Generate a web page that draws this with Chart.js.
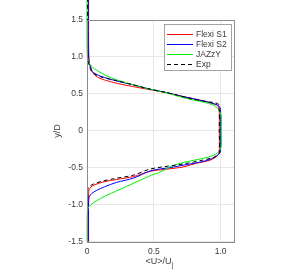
<!DOCTYPE html>
<html>
<head>
<meta charset="utf-8">
<script src="https://cdn.jsdelivr.net/npm/chart.js@4"></script>
<style>
  html, body { margin: 0; padding: 0; background: #fff; }
  canvas { display: block; }
</style>
</head>
<body>
<canvas id="chart" width="297" height="274"></canvas>
<script>
// profiles: y/D (position) and <U>/Uj (velocity)
const yS1 = [1.8, 1.2, 1.0, 0.92, 0.89, 0.85, 0.8, 0.75, 0.7, 0.64, 0.6, 0.56, 0.52, 0.48, 0.44, 0.4, 0.37, 0.35, 0.32, 0.25, 0, -0.25, -0.32, -0.36, -0.4, -0.44, -0.49, -0.52, -0.55, -0.62, -0.66, -0.69, -0.73, -0.76, -0.8, -0.85, -1.5];
const uS1 = [0.012, 0.012, 0.014, 0.018, 0.022, 0.03, 0.04, 0.06, 0.11, 0.23, 0.34, 0.46, 0.58, 0.68, 0.78, 0.88, 0.94, 0.97, 0.985, 0.99, 0.99, 0.99, 0.985, 0.96, 0.92, 0.82, 0.72, 0.6, 0.47, 0.35, 0.22, 0.13, 0.06, 0.03, 0.015, 0.012, 0.012];

const yS2 = [1.8, 1.2, 1.0, 0.92, 0.88, 0.84, 0.8, 0.78, 0.74, 0.67, 0.62, 0.56, 0.52, 0.47, 0.44, 0.4, 0.37, 0.35, 0.32, 0.25, 0, -0.25, -0.3, -0.34, -0.38, -0.42, -0.46, -0.5, -0.54, -0.64, -0.7, -0.76, -0.81, -0.85, -0.89, -0.95, -1.5];
const uS2 = [0.01, 0.01, 0.012, 0.016, 0.022, 0.03, 0.04, 0.055, 0.1, 0.23, 0.35, 0.48, 0.59, 0.7, 0.78, 0.88, 0.94, 0.975, 0.995, 1.0, 1.0, 1.0, 0.995, 0.97, 0.93, 0.86, 0.74, 0.62, 0.48, 0.35, 0.22, 0.13, 0.07, 0.035, 0.018, 0.012, 0.01];

const yJaz = [1.8, 1.2, 1.02, 0.96, 0.92, 0.88, 0.84, 0.8, 0.75, 0.685, 0.62, 0.56, 0.52, 0.47, 0.43, 0.4, 0.37, 0.34, 0.3, 0.25, 0.2, 0, -0.2, -0.26, -0.3, -0.33, -0.36, -0.4, -0.44, -0.49, -0.55, -0.62, -0.71, -0.8, -0.89, -0.95, -1.0, -1.05, -1.12, -1.5];
const uJaz = [0, 0, 0.002, 0.006, 0.015, 0.03, 0.055, 0.09, 0.14, 0.23, 0.35, 0.48, 0.58, 0.68, 0.76, 0.84, 0.91, 0.955, 0.98, 0.995, 1.005, 1.005, 1.005, 0.995, 0.975, 0.95, 0.9, 0.8, 0.7, 0.62, 0.56, 0.46, 0.35, 0.24, 0.13, 0.07, 0.03, 0.008, 0.002, 0];

const yExp = [1.8, 1.2, 0.98, 0.9, 0.85, 0.8, 0.77, 0.73, 0.675, 0.62, 0.56, 0.52, 0.47, 0.44, 0.4, 0.38, 0.36, 0.3, 0, -0.3, -0.33, -0.36, -0.4, -0.45, -0.52, -0.6, -0.65, -0.68, -0.72, -0.76, -0.8, -1.5];
const uExp = [0.004, 0.004, 0.006, 0.012, 0.022, 0.035, 0.055, 0.1, 0.23, 0.35, 0.48, 0.59, 0.7, 0.76, 0.88, 0.95, 0.985, 0.99, 0.99, 0.99, 0.97, 0.95, 0.86, 0.72, 0.47, 0.35, 0.2, 0.12, 0.05, 0.015, 0.006, 0.004];

const seriesNames = ["Flexi S1", "Flexi S2", "JAZzY", "Exp"];
const xTicks = [0, 0.5, 1];
const yTicks = [-1.5, -1, -0.5, 0, 0.5, 1, 1.5];

const toPoints = (u, y) => u.map((v, i) => ({ x: v, y: y[i] }));

const FONT = "'Liberation Sans', Arial, sans-serif";
const AXIS_GRAY = "#8c8c8c";
const TEXT = "#3a3a3a";

const boxAndLegend = {
  id: "boxAndLegend",
  afterDraw(chart) {
    const ctx = chart.ctx;
    const a = chart.chartArea;
    ctx.save();
    // axes box
    ctx.strokeStyle = AXIS_GRAY;
    ctx.lineWidth = 1;
    ctx.strokeRect(Math.round(a.left) + 0.5, Math.round(a.top) + 0.5, Math.round(a.right - a.left), Math.round(a.bottom - a.top));

    // legend
    ctx.fillStyle = "#fff";
    ctx.fillRect(164.5, 24.5, 67, 46);
    ctx.strokeStyle = AXIS_GRAY;
    ctx.lineWidth = 0.8;
    ctx.strokeRect(164.5, 24.5, 67, 46);
    ctx.font = "8.5px " + FONT;
    ctx.textBaseline = "middle";
    ctx.textAlign = "left";
    chart.data.datasets.forEach((ds, i) => {
      const yy = 34 + i * 10;
      ctx.strokeStyle = ds.borderColor;
      ctx.lineWidth = 1;
      ctx.setLineDash(ds.borderDash || []);
      ctx.beginPath();
      ctx.moveTo(167, yy + 0.5);
      ctx.lineTo(193, yy + 0.5);
      ctx.stroke();
      ctx.setLineDash([]);
      ctx.fillStyle = TEXT;
      ctx.fillText(ds.label, 196, yy + 0.5);
    });

    // axis titles
    ctx.fillStyle = TEXT;
    ctx.font = "9px " + FONT;
    ctx.textAlign = "center";
    ctx.save();
    ctx.translate(58, 131);
    ctx.rotate(-Math.PI / 2);
    ctx.fillText("y/D", 0, 0);
    ctx.restore();
    const main = "<U>/U";
    const w = ctx.measureText(main).width;
    const cx = (a.left + a.right) / 2;
    ctx.textAlign = "left";
    ctx.fillText(main, cx - w / 2 - 2, 262);
    ctx.font = "6.5px " + FONT;
    ctx.fillText("j", cx + w / 2 - 1.5, 265);
    ctx.restore();
  }
};

new Chart(document.getElementById("chart"), {
  type: "scatter",
  data: {
    datasets: [
      { label: seriesNames[0], data: toPoints(uS1, yS1), borderColor: "#ff0000", order: 3 },
      { label: seriesNames[1], data: toPoints(uS2, yS2), borderColor: "#0000ff", order: 2 },
      { label: seriesNames[2], data: toPoints(uJaz, yJaz), borderColor: "#00ee00", order: 1 },
      { label: seriesNames[3], data: toPoints(uExp, yExp), borderColor: "#000000", borderDash: [4, 3], order: 0 },
    ].map((d) => Object.assign(d, {
      showLine: true,
      pointRadius: 0,
      borderWidth: 1,
      tension: 0.3,
      clip: false,
      backgroundColor: d.borderColor,
    })),
  },
  options: {
    responsive: false,
    animation: false,
    layout: { padding: { left: 57, right: 63, top: 20, bottom: 0 } },
    plugins: { legend: { display: false }, tooltip: { enabled: false } },
    scales: {
      x: {
        type: "linear",
        min: 0,
        max: 1.1,
        afterBuildTicks: (s) => { s.ticks = xTicks.map((v) => ({ value: v })); },
        afterFit: (s) => { s.height = 32.5; },
        grid: { color: "#e6e6e6", drawTicks: false },
        border: { display: false },
        ticks: { padding: 5, color: TEXT, font: { size: 8.5, family: FONT }, maxRotation: 0 },
      },
      y: {
        type: "linear",
        min: -1.5,
        max: 1.5,
        afterBuildTicks: (s) => { s.ticks = yTicks.map((v) => ({ value: v })); },
        afterFit: (s) => { s.width = 30; },
        grid: { color: "#e6e6e6", drawTicks: false },
        border: { display: false },
        ticks: { padding: 4, color: TEXT, font: { size: 8.5, family: FONT } },
      },
    },
  },
  plugins: [boxAndLegend],
});
</script>
</body>
</html>
